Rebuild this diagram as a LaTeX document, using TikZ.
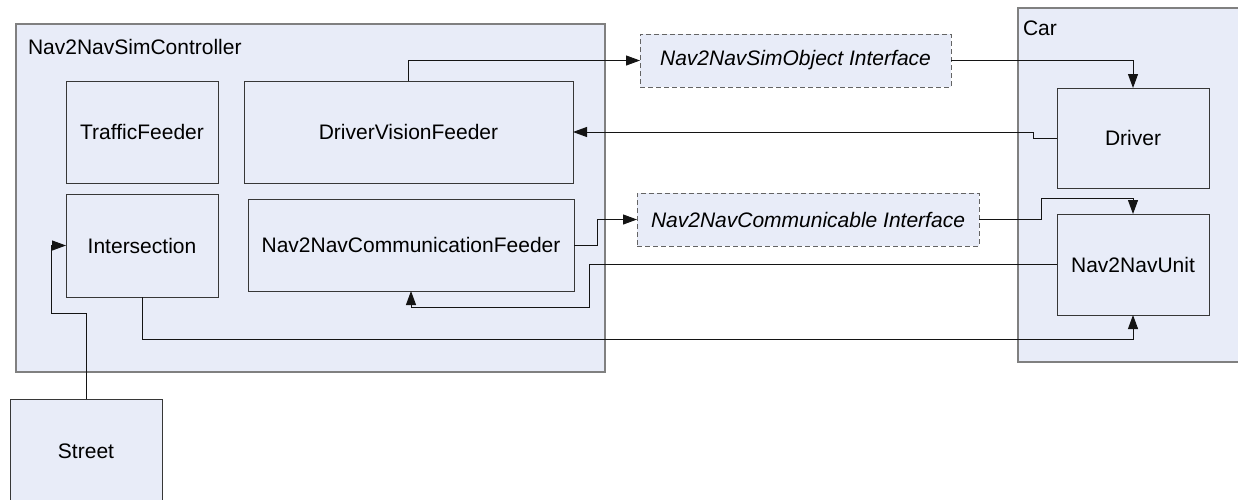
\documentclass[tikz,border=0pt]{standalone}
\usepackage{fontspec}
\setmainfont{Liberation Sans}
\usetikzlibrary{arrows.meta,calc}
\definecolor{boxfill}{RGB}{232,236,248}
\definecolor{frameline}{RGB}{128,128,128}
\definecolor{boxline}{RGB}{55,55,55}
\definecolor{wire}{RGB}{20,20,20}
\definecolor{dashline}{RGB}{100,100,100}
\begin{document}
\begin{tikzpicture}[x=1pt,y=-1pt,
  every node/.style={font=\fontsize{21}{25}\selectfont, inner sep=0pt, outer sep=0pt},
  frame/.style={draw=frameline, line width=1.2pt, fill=boxfill},
  box/.style={draw=boxline, line width=1pt, fill=boxfill, align=center},
  iface/.style={draw=dashline, line width=1pt, dash pattern=on 5pt off 3pt, fill=boxfill,
    font=\fontsize{21}{25}\selectfont\itshape},
  conn/.style={draw=wire, line width=1pt, -{Triangle[length=14pt,width=10pt]}},
  framelabel/.style={anchor=base west}]
\useasboundingbox (0,0) rectangle (1238,499);
\clip (0,0) rectangle (1238,499);

% containers
\node[frame, minimum width=589pt, minimum height=348pt] (ctrl) at (310.5,198) {};
\node[framelabel] (ctrllabel) at (28,54.5) {Nav2NavSimController};
\node[frame, minimum width=232pt, minimum height=354pt] (car) at (1134,185) {};
\node[framelabel] (carlabel) at (1023,35) {Car};

% controller parts
\node[box, minimum width=152pt, minimum height=102pt] (tf) at (142,132) {TrafficFeeder};
\node[box, minimum width=329pt, minimum height=102pt] (dvf) at (408.5,132) {DriverVisionFeeder};
\node[box, minimum width=152pt, minimum height=103pt] (inter) at (142,245.5) {Intersection};
\node[box, minimum width=326pt, minimum height=92pt] (cf) at (411,245) {Nav2NavCommunicationFeeder};

% street below the controller
\node[box, minimum width=152pt, minimum height=104pt] (street) at (86,451) {Street};

% interfaces
\node[iface, minimum width=311pt, minimum height=53pt] (simobj) at (795.5,60.5) {Nav2NavSimObject Interface};
\node[iface, minimum width=342pt, minimum height=53pt] (ci) at (808,219.5) {Nav2NavCommunicable Interface};

% car parts
\node[box, minimum width=152pt, minimum height=100pt] (driver) at (1133,138) {Driver};
\node[box, minimum width=152pt, minimum height=101pt] (unit) at (1133,264.5) {Nav2NavUnit};

% connectors
\draw[conn] (dvf.north) |- (simobj.west);
\draw[conn] (simobj.east) -| (driver.north);
\draw[conn] (driver.west) -- ++(-24,0) |- (dvf.east);
\draw[conn] (cf.east) -- ++(23,0) |- (ci.west);
\draw[conn] (ci.east) -- ++(62,0) |- ($(unit.north)+(0,-16)$) -- (unit.north);
\draw[conn] (unit.west) -- ++(-468,0) -- ++(0,42.5) -| (cf.south);
\draw[conn] (inter.south) -- ++(0,42) -| (unit.south);
\draw[conn] (street.north) -- ++(0,-86) -- ++(-35,0) |- (inter.west);
\end{tikzpicture}
\end{document}
